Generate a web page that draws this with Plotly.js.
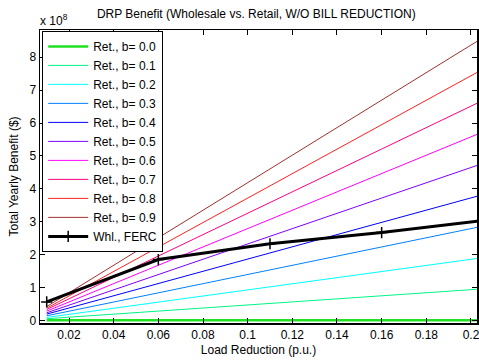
<!DOCTYPE html>
<html>
<head>
<meta charset="utf-8">
<script src="https://cdn.plot.ly/plotly-3.0.1.min.js"></script>
<style>html,body{margin:0;padding:0;background:#fff;}#chart{width:479px;height:360px;}</style>
</head>
<body>
<div id="chart"></div>
<script>
// Data (values in units of 1e8 $)
const retX = [0.01, 0.06, 0.11, 0.16, 0.21];
const bLabels = ["0.0", "0.1", "0.2", "0.3", "0.4", "0.5", "0.6", "0.7", "0.8", "0.9"];
const retB00 = [0.00, 0.00, 0.00, 0.00, 0.00];
const retB01 = [0.05, 0.28, 0.51, 0.74, 0.98];
const retB02 = [0.09, 0.56, 1.02, 1.49, 1.95];
const retB03 = [0.14, 0.84, 1.53, 2.23, 2.93];
const retB04 = [0.19, 1.12, 2.05, 2.98, 3.91];
const retB05 = [0.23, 1.40, 2.56, 3.72, 4.88];
const retB06 = [0.28, 1.67, 3.07, 4.47, 5.86];
const retB07 = [0.33, 1.95, 3.58, 5.21, 6.84];
const retB08 = [0.37, 2.23, 4.09, 5.95, 7.81];
const retB09 = [0.42, 2.51, 4.60, 6.70, 8.79];
const retSeries = [retB00, retB01, retB02, retB03, retB04, retB05, retB06, retB07, retB08, retB09];
const whlX = [0.01, 0.06, 0.11, 0.16, 0.21];
const whlY = [0.56, 1.85, 2.33, 2.67, 3.07];
const xTicks = [0.02, 0.04, 0.06, 0.08, 0.1, 0.12, 0.14, 0.16, 0.18, 0.2];
const yTicks = [0, 1, 2, 3, 4, 5, 6, 7, 8];

const colors = ["#22e022", "#00f585", "#00ffff", "#0080ff", "#0000ff",
                "#8000ff", "#ff00ff", "#ff0080", "#ff2020", "#a03030"];

const traces = retSeries.map((ys, i) => ({
  x: retX, y: ys, type: "scatter", mode: "lines",
  name: "Ret., b= " + bLabels[i],
  line: {color: colors[i], width: i === 0 ? 2.5 : 1}
}));
traces.push({
  x: whlX, y: whlY, type: "scatter", mode: "lines+markers",
  name: "Whl., FERC",
  line: {color: "#000", width: 3},
  marker: {symbol: "cross-thin-open", size: 8, color: "#000", line: {color: "#000", width: 1.5}}
});

const font = {family: "Liberation Sans, Arial, sans-serif", size: 12, color: "#000"};
const layout = {
  width: 479, height: 360,
  margin: {l: 40, r: 2, t: 30, b: 37},
  paper_bgcolor: "#fff", plot_bgcolor: "#fff",
  font: font,
  showlegend: true,
  title: {text: "DRP Benefit (Wholesale vs. Retail, W/O BILL REDUCTION)", font: {family: font.family, size: 12, color: "#000"}, x: 0.535, xanchor: "center", y: 0.962, yanchor: "middle"},
  xaxis: {
    range: [0.007, 0.2027], tickvals: xTicks, ticktext: xTicks.map(v => String(v)),
    ticks: "inside", ticklen: 5, tickcolor: "#000", showline: true, linecolor: "#000", linewidth: 1.5,
    mirror: "ticks", showgrid: false, zeroline: false, ticklabeloverflow: "allow",
    title: {text: "Load Reduction (p.u.)", font: {size: 12}, standoff: 4},
    tickfont: {size: 12}
  },
  yaxis: {
    range: [-0.08, 8.83], tickvals: yTicks, ticktext: yTicks.map(String),
    ticks: "inside", ticklen: 5, tickcolor: "#000", showline: true, linecolor: "#000", linewidth: 1.5,
    mirror: "ticks", showgrid: false, zeroline: false, ticklabeloverflow: "allow",
    title: {text: "Total Yearly Benefit ($)", font: {size: 12}, standoff: 8},
    tickfont: {size: 12}
  },
  legend: {
    x: 0.005, y: 0.997, xanchor: "left", yanchor: "top",
    bgcolor: "#fff", bordercolor: "#000", borderwidth: 1,
    font: {size: 12}, tracegroupgap: 0, itemwidth: 40
  },
  annotations: [{
    text: "x 10<sup>8</sup>", xref: "paper", yref: "paper", x: -0.005, y: 1.0, xanchor: "left", yanchor: "bottom",
    showarrow: false, font: {size: 12}
  }]
};
Plotly.newPlot("chart", traces, layout, {displayModeBar: false, staticPlot: true});
</script>
</body>
</html>
